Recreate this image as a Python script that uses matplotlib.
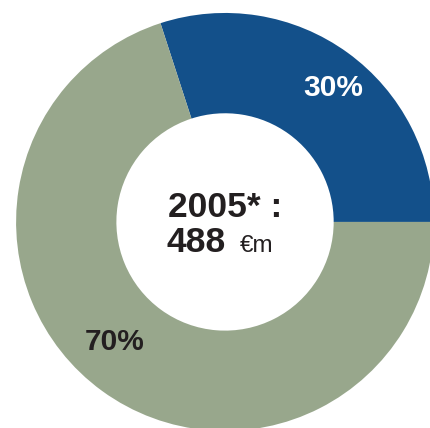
import matplotlib
matplotlib.use('Agg')
import matplotlib.pyplot as plt

# data
labels = ['30%', '70%']
shares = [30, 70]
colors = ['#13508A', '#98A78C']
year_label = '2005* :'
total_value = '488'
total_unit = '€m'

plt.rcParams['font.family'] = ['Liberation Sans', 'DejaVu Sans']

fig = plt.figure(figsize=(4.30, 4.28), dpi=100)
ax = fig.add_axes([0, 0, 1, 1])

# donut, blue slice starts at 3 o'clock going counterclockwise
wedges, _ = ax.pie(shares, colors=colors, startangle=0, counterclock=True,
                   radius=1.0, wedgeprops=dict(width=0.48, linewidth=0))

# percent labels inside the ring
ax.text(0.52, 0.64, labels[0], color='white', fontsize=21.5, fontweight='bold',
        ha='center', va='center')
ax.text(-0.53, -0.575, labels[1], color='#231F20', fontsize=21.5, fontweight='bold',
        ha='center', va='center')

# centre text
ax.text(-0.273, 0.025, year_label, color='#231F20', fontsize=25.5, fontweight='bold',
        ha='left', va='baseline')
ax.text(-0.278, -0.142, total_value, color='#231F20', fontsize=25.5, fontweight='bold',
        ha='left', va='baseline')
ax.text(0.072, -0.142, total_unit, color='#231F20', fontsize=17.5,
        ha='left', va='baseline')

ax.set_xlim(-1.077, 0.981)
ax.set_ylim(-0.986, 1.062)
ax.set_aspect('auto')
ax.axis('off')

fig.savefig('out.png', dpi=100)
